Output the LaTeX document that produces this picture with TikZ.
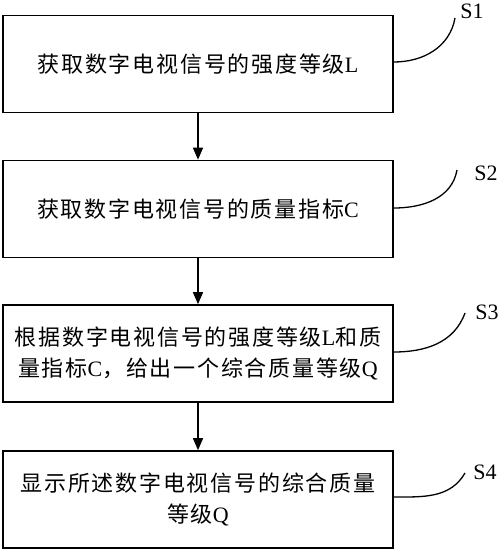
\documentclass[tikz,border=0pt]{standalone}
\usepackage{fontspec}
\setmainfont{Liberation Serif}
\newfontfamily\cjk[LetterSpace=8]{Noto Sans CJK SC}
\usetikzlibrary{arrows.meta}
\begin{document}
\begin{tikzpicture}[x=1pt,y=-1pt,
  stepbox/.style={draw,line width=1.6pt,minimum width=390pt,minimum height=97pt,inner sep=0pt,align=center,font=\fontsize{22}{31}\selectfont},
  flow/.style={line width=1.4pt,-{Triangle[length=12pt,width=10pt]}},
  leader/.style={line width=1.3pt},
  lbl/.style={font=\fontsize{22}{26}\selectfont,inner sep=0pt}]
\useasboundingbox (0,0) rectangle (500,550);
\node[stepbox] (b1) at (198,64) {{\cjk 获取数字电视信号的强度等级}L};
\node[stepbox] (b2) at (198,209) {{\cjk 获取数字电视信号的质量指标}C};
\node[stepbox] (b3) at (198,353.5) {{\cjk 根据数字电视信号的强度等级}L{\cjk 和质}\\{\cjk 量指标}C{\cjk ，给出一个综合质量等级}Q};
\node[stepbox] (b4) at (198,499.5) {{\cjk 显示所述数字电视信号的综合质量}\\{\cjk 等级}Q};
\draw[flow] (b1.south) -- (b2.north);
\draw[flow] (b2.south) -- (b3.north);
\draw[flow] (b3.south) -- (b4.north);
\node[lbl] (s1) at (472,11) {S1};
\node[lbl] (s2) at (486,173) {S2};
\node[lbl] (s3) at (487,312) {S3};
\node[lbl] (s4) at (485,472) {S4};
\coordinate (e1) at (455,18);
\coordinate (e2) at (457,170);
\coordinate (e3) at (465,313);
\coordinate (e4) at (465,473);
\draw[leader] (b1.east |- 0,62) to[out=0,in=-100] (e1);
\draw[leader] (b2.east |- 0,208) to[out=0,in=-100] (e2);
\draw[leader] (b3.east |- 0,352) to[out=0,in=-110] (e3);
\draw[leader] (b4.east |- 0,497) to[out=0,in=-120] (e4);
\end{tikzpicture}
\end{document}
